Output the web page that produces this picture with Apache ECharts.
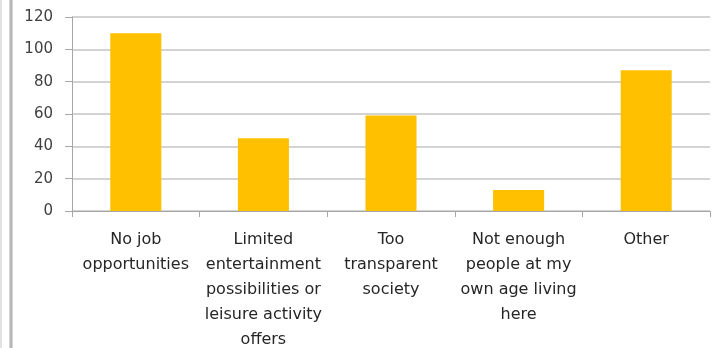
<!DOCTYPE html>
<html>
<head>
<meta charset="utf-8">
<script src="https://cdn.jsdelivr.net/npm/echarts@6/dist/echarts.min.js"></script>
<style>
  html, body { margin: 0; padding: 0; background: #fff; }
  #chart { width: 717px; height: 348px; }
</style>
</head>
<body>
<div id="chart"></div>
<script>
// Reasons for leaving, number of answers per reason
const categories = [
  'No job\nopportunities',
  'Limited\nentertainment\npossibilities or\nleisure activity\noffers',
  'Too\ntransparent\nsociety',
  'Not enough\npeople at my\nown age living\nhere',
  'Other'
];
const answers = [110, 45, 59, 13, 87];
const yTicks = { min: 0, max: 120, interval: 20 };

const chart = echarts.init(document.getElementById('chart'), null, { renderer: 'canvas' });

chart.setOption({
  animation: false,
  backgroundColor: '#ffffff',
  // fixed plot rectangle; the long category labels may run to the bottom edge
  grid: { left: 72, right: 7, top: 17, bottom: 137, containLabel: false, outerBoundsMode: 'none' },
  graphic: [
    { type: 'rect', shape: { x: 0, y: 0, width: 2, height: 348 }, style: { fill: '#e2e2e2' } },
    { type: 'rect', shape: { x: 9, y: 0, width: 4, height: 348 }, style: { fill: '#d4d4d4' } },
    { type: 'rect', shape: { x: 10, y: 0, width: 2, height: 348 }, style: { fill: '#b8b8b8' } }
  ],
  xAxis: {
    type: 'category',
    data: categories,
    axisLine: { show: true, lineStyle: { color: '#a6a6a6', width: 1 } },
    axisTick: { show: true, length: 6, alignWithLabel: false, lineStyle: { color: '#a6a6a6' } },
    axisLabel: {
      interval: 0,
      margin: 16,
      color: '#262626',
      fontFamily: 'DejaVu Sans',
      fontSize: 16,
      lineHeight: 25,
      align: 'center',
      verticalAlign: 'top'
    },
    splitLine: { show: false }
  },
  yAxis: {
    type: 'value',
    min: yTicks.min,
    max: yTicks.max,
    interval: yTicks.interval,
    axisLine: { show: true, lineStyle: { color: '#a6a6a6', width: 1 } },
    axisTick: { show: true, length: 7, lineStyle: { color: '#a6a6a6' } },
    axisLabel: {
      margin: 19,
      color: '#404040',
      fontFamily: 'DejaVu Sans',
      fontSize: 15
    },
    splitLine: { show: true, lineStyle: { color: '#c4c4c4', width: 1.5 } }
  },
  series: [{
    type: 'bar',
    data: answers,
    barWidth: '40%',
    itemStyle: { color: '#ffc000' }
  }]
});
</script>
</body>
</html>
